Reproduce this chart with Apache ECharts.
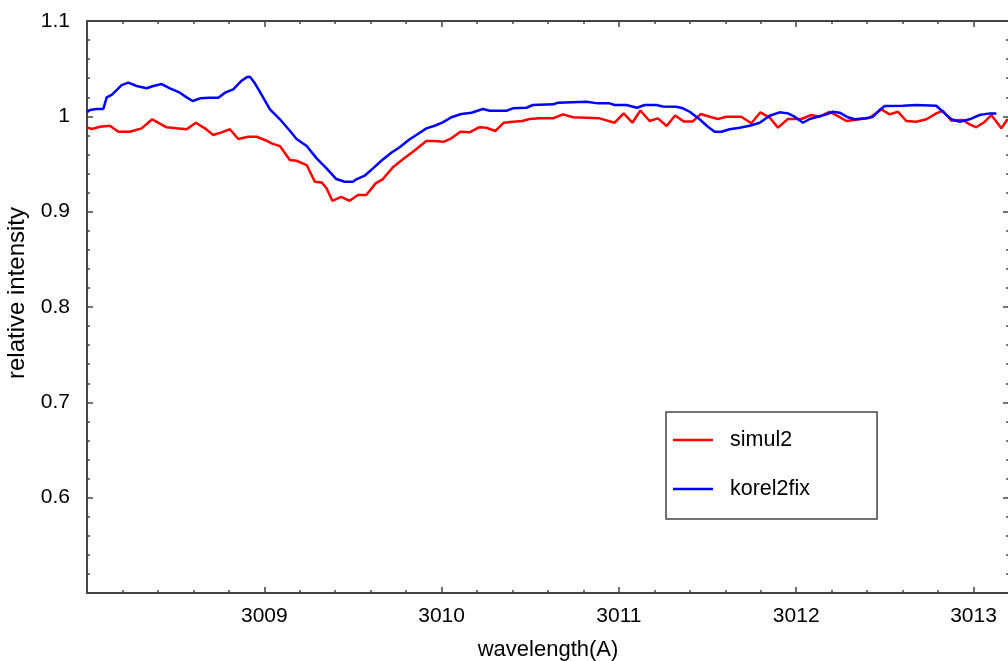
<!DOCTYPE html>
<html>
<head>
<meta charset="utf-8">
<script src="https://cdn.jsdelivr.net/npm/echarts@6/dist/echarts.min.js"></script>
<style>
html,body{margin:0;padding:0;background:#fff;}
#chart{width:1008px;height:661px;}
</style>
</head>
<body>
<div id="chart"></div>
<script>
// ---- data ----
const seriesNames = ['simul2', 'korel2fix'];

const simulWave = [3008.000,3008.026,3008.073,3008.129,3008.177,3008.242,3008.308,3008.368,3008.449,3008.505,3008.562,3008.614,3008.665,3008.712,3008.759,3008.806,3008.853,3008.910,3008.957,3009.013,3009.041,3009.088,3009.144,3009.182,3009.239,3009.285,3009.323,3009.351,3009.384,3009.434,3009.481,3009.528,3009.575,3009.628,3009.669,3009.725,3009.782,3009.838,3009.914,3009.961,3010.011,3010.055,3010.106,3010.158,3010.210,3010.252,3010.303,3010.351,3010.402,3010.455,3010.496,3010.553,3010.628,3010.684,3010.741,3010.891,3010.976,3011.027,3011.076,3011.121,3011.173,3011.220,3011.269,3011.317,3011.365,3011.417,3011.461,3011.512,3011.558,3011.606,3011.690,3011.747,3011.798,3011.850,3011.897,3011.953,3012.029,3012.085,3012.132,3012.188,3012.235,3012.283,3012.358,3012.414,3012.480,3012.527,3012.574,3012.621,3012.677,3012.734,3012.790,3012.827,3012.875,3012.940,3012.978,3013.016,3013.063,3013.100,3013.157,3013.192];
const simulVal = [0.9885,0.9867,0.9891,0.9901,0.9838,0.9838,0.9874,0.9969,0.9885,0.9874,0.9864,0.9933,0.9874,0.9804,0.9832,0.9864,0.9762,0.9786,0.9786,0.9744,0.9717,0.9688,0.9541,0.9534,0.9489,0.9314,0.9307,0.9245,0.9114,0.9156,0.9114,0.9174,0.9174,0.9297,0.9342,0.9465,0.9549,0.9629,0.9741,0.9741,0.9733,0.9769,0.9838,0.9832,0.9885,0.9880,0.9846,0.9933,0.9943,0.9951,0.9972,0.9979,0.9979,1.0021,0.9990,0.9979,0.9933,1.0031,0.9933,1.0061,0.9951,0.9979,0.9898,1.0008,0.9947,0.9947,1.0024,0.9996,0.9972,0.9996,0.9996,0.9927,1.0042,0.9987,0.9882,0.9972,0.9972,1.0014,0.9996,1.0048,1.0003,0.9951,0.9969,0.9985,1.0073,1.0021,1.0048,0.9951,0.9943,0.9969,1.0031,1.0059,0.9954,0.9961,0.9916,0.9885,0.9943,1.0014,0.9874,0.9972];

const korelWave = [3008.000,3008.016,3008.054,3008.092,3008.111,3008.139,3008.167,3008.195,3008.233,3008.280,3008.336,3008.374,3008.421,3008.468,3008.524,3008.562,3008.596,3008.637,3008.693,3008.741,3008.778,3008.825,3008.872,3008.900,3008.919,3008.947,3008.985,3009.032,3009.088,3009.144,3009.182,3009.239,3009.295,3009.351,3009.406,3009.453,3009.500,3009.519,3009.566,3009.613,3009.660,3009.716,3009.763,3009.820,3009.866,3009.914,3009.961,3010.007,3010.055,3010.111,3010.168,3010.233,3010.271,3010.365,3010.402,3010.478,3010.515,3010.628,3010.656,3010.816,3010.882,3010.948,3010.976,3011.042,3011.102,3011.145,3011.211,3011.248,3011.324,3011.361,3011.399,3011.455,3011.502,3011.540,3011.578,3011.624,3011.681,3011.737,3011.794,3011.850,3011.906,3011.953,3011.991,3012.038,3012.076,3012.122,3012.170,3012.207,3012.245,3012.292,3012.329,3012.395,3012.433,3012.470,3012.499,3012.602,3012.677,3012.790,3012.837,3012.875,3012.922,3012.978,3013.034,3013.091,3013.129];
const korelVal = [1.0042,1.0066,1.0077,1.0077,1.0199,1.0224,1.0276,1.0328,1.0353,1.0318,1.0294,1.0318,1.0339,1.0294,1.0248,1.0199,1.0161,1.0189,1.0195,1.0195,1.0248,1.0283,1.0374,1.0409,1.0416,1.0346,1.0224,1.0073,0.9969,0.9849,0.9762,0.9688,0.9559,0.9454,0.9342,0.9314,0.9314,0.9339,0.9377,0.9454,0.9534,0.9618,0.9675,0.9759,0.9814,0.9874,0.9901,0.9937,0.9990,1.0024,1.0038,1.0077,1.0059,1.0059,1.0084,1.0090,1.0119,1.0126,1.0143,1.0153,1.0136,1.0136,1.0119,1.0119,1.0090,1.0119,1.0119,1.0103,1.0101,1.0084,1.0048,0.9969,0.9891,0.9838,0.9838,0.9864,0.9880,0.9901,0.9933,1.0006,1.0042,1.0031,0.9996,0.9933,0.9972,0.9996,1.0021,1.0048,1.0038,0.9990,0.9969,0.9979,0.9996,1.0066,1.0108,1.0111,1.0119,1.0111,1.0031,0.9969,0.9943,0.9969,1.0014,1.0031,1.0031];

const xTitle = 'wavelength(A)';
const yTitle = 'relative intensity';

// ---- chart ----
const pairs = (xs, ys) => xs.map((x, i) => [x, ys[i]]);
const FONT = '"Liberation Sans", Arial, sans-serif';
const AX = '#444';

const baseX = {
  type: 'value', min: 3008, max: 3013.2, interval: 1,
  axisLine: { show: true, onZero: false, lineStyle: { color: AX, width: 2 } },
  axisTick: { show: true, inside: true, length: 6, lineStyle: { color: AX, width: 1.5 } },
  minorTick: { show: true, splitNumber: 5, length: 3, lineStyle: { color: AX, width: 1.5 } },
  splitLine: { show: false }, minorSplitLine: { show: false }
};
const baseY = {
  type: 'value', min: 0.5, max: 1.1, interval: 0.1,
  axisLine: { show: true, onZero: false, lineStyle: { color: AX, width: 2 } },
  axisTick: { show: true, inside: true, length: 6, lineStyle: { color: AX, width: 1.5 } },
  minorTick: { show: true, splitNumber: 5, length: 3, lineStyle: { color: AX, width: 1.5 } },
  splitLine: { show: false }, minorSplitLine: { show: false }
};

const chart = echarts.init(document.getElementById('chart'), null, { renderer: 'canvas' });
chart.setOption({
  animation: false,
  backgroundColor: '#fff',
  grid: { left: 87, top: 21, right: -1, bottom: 68, containLabel: false, outerBoundsMode: 'none' },
  xAxis: [
    Object.assign({}, baseX, {
      position: 'bottom',
      name: xTitle, nameLocation: 'middle', nameGap: 46,
      nameTextStyle: { color: '#000', fontSize: 22, fontFamily: FONT },
      axisLabel: { show: true, color: '#000', fontSize: 21, fontFamily: FONT, margin: 13,
        showMinLabel: false, formatter: v => String(Math.round(v)) }
    }),
    Object.assign({}, baseX, { position: 'top', axisLabel: { show: false } })
  ],
  yAxis: [
    Object.assign({}, baseY, {
      position: 'left',
      name: yTitle, nameLocation: 'middle', nameGap: 58,
      nameTextStyle: { color: '#000', fontSize: 24, fontFamily: FONT, padding: [0, 0, 0, 28] },
      axisLabel: { show: true, color: '#000', fontSize: 21, fontFamily: FONT, margin: 17,
        showMinLabel: false, formatter: v => String(+v.toFixed(1)) }
    }),
    Object.assign({}, baseY, { position: 'right', axisLine: { show: false }, axisLabel: { show: false } })
  ],
  legend: {
    show: true, orient: 'vertical', left: 666, top: 412,
    padding: [17, 67, 19, 7],
    itemGap: 27, itemWidth: 40, itemHeight: 2.5, icon: 'rect',
    borderColor: AX, borderWidth: 1.5, backgroundColor: '#fff',
    textStyle: { color: '#000', fontSize: 21.5, fontFamily: FONT, lineHeight: 22, padding: [0, 0, 0, 12] },
    data: seriesNames
  },
  series: [
    { name: seriesNames[0], type: 'line', xAxisIndex: 0, yAxisIndex: 0, showSymbol: false,
      data: pairs(simulWave, simulVal), color: '#ff0000',
      lineStyle: { color: '#ff0000', width: 2.5 } },
    { name: seriesNames[1], type: 'line', xAxisIndex: 0, yAxisIndex: 0, showSymbol: false,
      data: pairs(korelWave, korelVal), color: '#0000ff',
      lineStyle: { color: '#0000ff', width: 2.5 } }
  ]
});
</script>
</body>
</html>
